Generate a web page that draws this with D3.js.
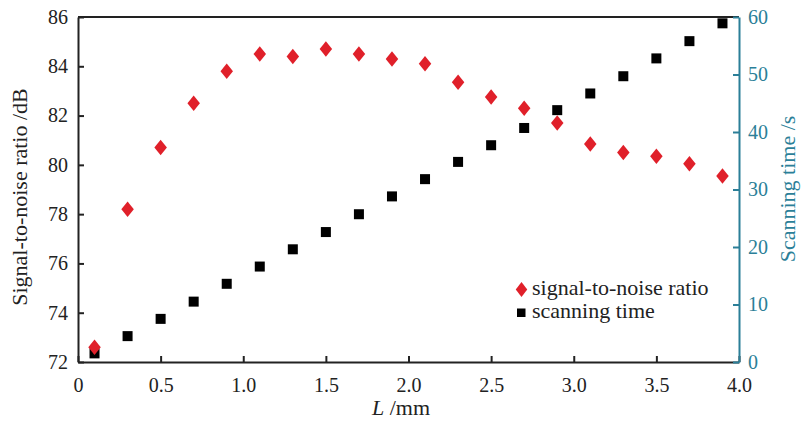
<!DOCTYPE html>
<html>
<head>
<meta charset="utf-8">
<script src="https://cdn.jsdelivr.net/npm/d3@7"></script>
<style>
  html, body { margin: 0; padding: 0; background: #fff; }
  svg { display: block; }
  svg text { font-family: "Liberation Serif", "DejaVu Serif", "Times New Roman", serif; }
</style>
</head>
<body>
<svg id="chart" width="801" height="421"></svg>
<script>
// Probe length L (mm)
const lengths = [0.1, 0.3, 0.5, 0.7, 0.9, 1.1, 1.3, 1.5, 1.7, 1.9,
                 2.1, 2.3, 2.5, 2.7, 2.9, 3.1, 3.3, 3.5, 3.7, 3.9];
// Signal-to-noise ratio (dB), left axis
const snr = [72.6, 78.2, 80.7, 82.5, 83.8, 84.5, 84.4, 84.7, 84.5, 84.3,
             84.1, 83.35, 82.75, 82.3, 81.7, 80.85, 80.5, 80.35, 80.05, 79.55];
// Scanning time (s), right axis
const scanTime = [1.5, 4.5, 7.5, 10.5, 13.6, 16.6, 19.6, 22.6, 25.7, 28.8,
                  31.8, 34.8, 37.7, 40.7, 43.8, 46.7, 49.7, 52.8, 55.8, 58.9];

const xTicks = [0, 0.5, 1.0, 1.5, 2.0, 2.5, 3.0, 3.5, 4.0];
const leftTicks = [72, 74, 76, 78, 80, 82, 84, 86];
const rightTicks = [0, 10, 20, 30, 40, 50, 60];

const FONT = "Liberation Serif, DejaVu Serif, serif";
const FS_TICK = 20;
const FS_LABEL = 22;

const svg = d3.select("#chart");
const m = { left: 78, right: 739, top: 17, bottom: 362 };
const teal = "#2b7f98";
const red = "#e0202a";
const ink = "#222";

const x = d3.scaleLinear().domain([0, 4]).range([m.left, m.right]);
const yL = d3.scaleLinear().domain([72, 86]).range([m.bottom, m.top]);
const yR = d3.scaleLinear().domain([0, 60]).range([m.bottom, m.top]);

function styleAxis(g, color) {
  g.attr("font-family", FONT).attr("font-size", FS_TICK);
  g.select(".domain").attr("stroke", color).attr("stroke-width", 2);
  g.selectAll(".tick line").attr("stroke", color).attr("stroke-width", 2);
  g.selectAll(".tick text").attr("fill", color);
}

// Bottom axis (ticks point inward)
const xAxis = d3.axisBottom(x).tickValues(xTicks)
  .tickFormat(d => d === 0 ? "0" : d3.format(".1f")(d))
  .tickSizeInner(-6).tickSizeOuter(0).tickPadding(16);
styleAxis(svg.append("g").attr("transform", `translate(0,${m.bottom})`).call(xAxis), ink);

// Left axis
const yAxisL = d3.axisLeft(yL).tickValues(leftTicks)
  .tickSizeInner(-6).tickSizeOuter(0).tickPadding(10);
styleAxis(svg.append("g").attr("transform", `translate(${m.left},0)`).call(yAxisL), ink);

// Top frame line
svg.append("line")
  .attr("x1", m.left).attr("x2", m.right)
  .attr("y1", m.top).attr("y2", m.top)
  .attr("stroke", ink).attr("stroke-width", 2);

// Right axis
const yAxisR = d3.axisRight(yR).tickValues(rightTicks)
  .tickSizeInner(-6).tickSizeOuter(0).tickPadding(9);
styleAxis(svg.append("g").attr("transform", `translate(${m.right},0)`).call(yAxisR), teal);

// Axis titles
svg.append("text")
  .attr("transform", `translate(27,197) rotate(-90)`)
  .attr("text-anchor", "middle").attr("font-family", FONT).attr("font-size", FS_LABEL).attr("fill", ink)
  .text("Signal-to-noise ratio /dB");

svg.append("text")
  .attr("transform", `translate(795,189) rotate(-90)`)
  .attr("text-anchor", "middle").attr("font-family", FONT).attr("font-size", FS_LABEL).attr("fill", teal)
  .text("Scanning time /s");

const xt = svg.append("text")
  .attr("x", 401).attr("y", 415)
  .attr("text-anchor", "middle").attr("font-family", FONT).attr("font-size", FS_LABEL).attr("fill", ink);
xt.append("tspan").attr("font-style", "italic").text("L");
xt.append("tspan").text(" /mm");

// Marker shapes
const diamond = (cx, cy, w, h) =>
  `M${cx},${cy - h / 2}L${cx + w / 2},${cy}L${cx},${cy + h / 2}L${cx - w / 2},${cy}Z`;

// Scanning time squares
svg.append("g").selectAll("rect")
  .data(lengths.map((l, i) => [l, scanTime[i]]))
  .join("rect")
  .attr("x", d => x(d[0]) - 5).attr("y", d => yR(d[1]) - 5)
  .attr("width", 10).attr("height", 10)
  .attr("fill", "#000");

// Signal-to-noise diamonds
svg.append("g").selectAll("path")
  .data(lengths.map((l, i) => [l, snr[i]]))
  .join("path")
  .attr("d", d => diamond(x(d[0]), yL(d[1]), 12.5, 15.5))
  .attr("fill", red);

// Legend
const lg = svg.append("g").attr("font-family", FONT).attr("font-size", FS_LABEL).attr("fill", ink);
lg.append("path").attr("d", diamond(521.5, 289.5, 11.5, 15)).attr("fill", red);
lg.append("text").attr("x", 532).attr("y", 295).text("signal-to-noise ratio");
lg.append("rect").attr("x", 517).attr("y", 308.5).attr("width", 8.5).attr("height", 8.5).attr("fill", "#000");
lg.append("text").attr("x", 532).attr("y", 318).text("scanning time");
</script>
</body>
</html>
